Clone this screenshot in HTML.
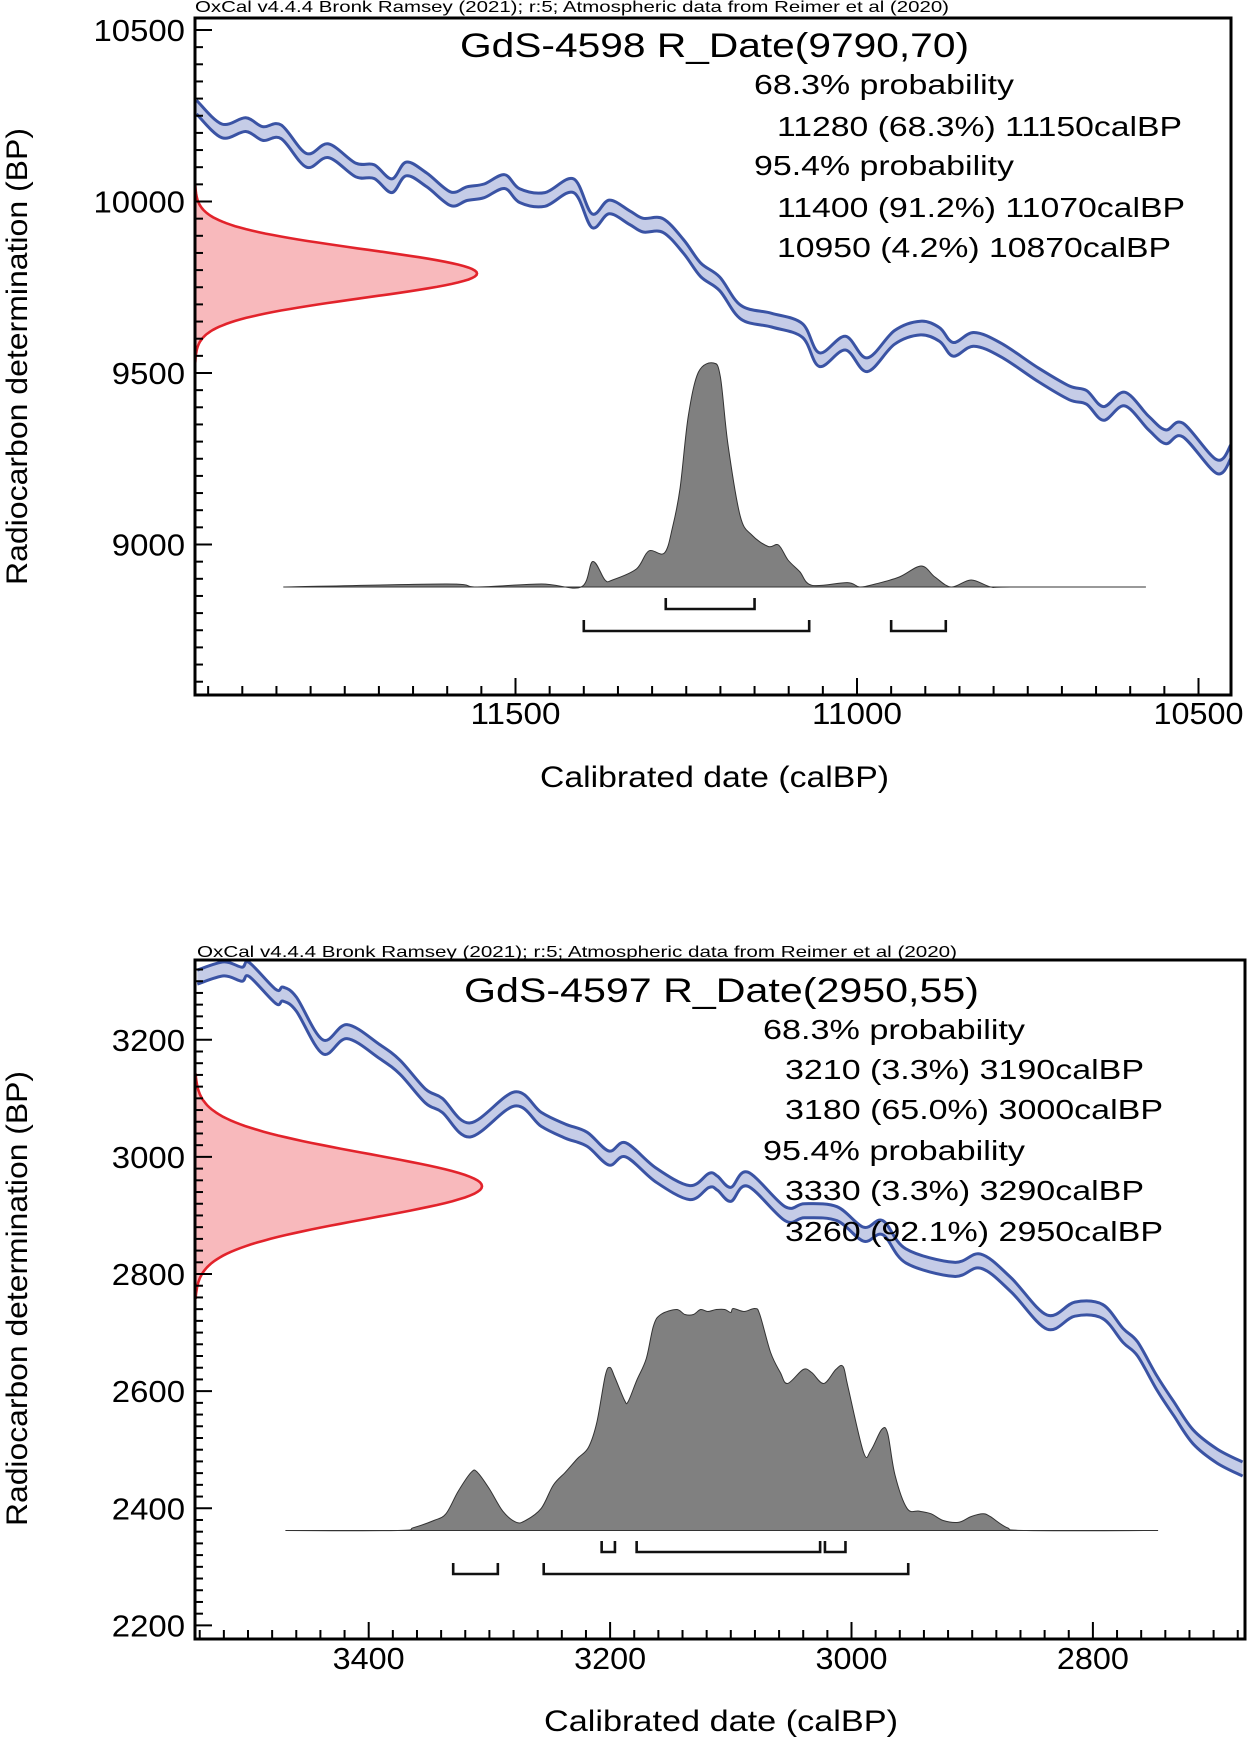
<!DOCTYPE html>
<html><head><meta charset="utf-8"><title>OxCal calibration plots</title>
<style>
html,body{margin:0;padding:0;background:#fff;}
svg{display:block;}
text{font-family:"Liberation Sans",Arial,sans-serif;fill:#000;}
</style></head>
<body>
<svg id="fig" xmlns="http://www.w3.org/2000/svg" width="1247" height="1740" viewBox="0 0 1247 1740">
<rect x="0" y="0" width="1247" height="1740" fill="#fff"/>
<g id="chartA"></g>
<g id="chartB"></g>
</svg>
<script>
// ---- Chart A data (GdS-4598) ----
const calA = [11967,11930,11895,11870,11843,11806,11774,11734,11707,11681,11660,11630,11595,11571,11546,11516,11494,11457,11415,11388,11363,11333,11313,11284,11254,11229,11201,11170,11125,11080,11055,11017,10985,10945,10907,10879,10859,10829,10789,10734,10689,10664,10639,10608,10573,10548,10523,10473,10452];
const bpA = [10275,10206,10224,10198,10203,10120,10148,10092,10087,10046,10095,10063,10008,10023,10031,10058,10017,10006,10046,9944,9984,9953,9931,9930,9869,9801,9760,9677,9654,9624,9539,9587,9524,9604,9631,9612,9569,9598,9567,9494,9442,9429,9382,9424,9354,9314,9334,9227,9273];
const errA = 20;
const postCalA = [11840,11602,11556,11462,11404,11387,11369,11358,11323,11305,11282,11270,11259,11247,11232,11210,11200,11189,11171,11154,11130,11115,11101,11084,11066,11014,10996,10973,10938,10906,10886,10862,10833,10804,10775,10577];
const postProbA = [0,3,0,3,0,25.5,7,7,18,36,34,60,99,171,215,224,210,143,71,52,40.5,42,27,15.5,1.7,4.4,0,3,10,21,10,0,7,0,0,0];
const rangesA1 = [[11280,11150]];
const rangesA2 = [[11400,11070],[10950,10870]];
const xTicksA = [11500,11000,10500];
const yTicksA = [9000,9500,10000,10500];
const dateA = [9790,70];
const textA = ["GdS-4598 R_Date(9790,70)","68.3% probability","11280 (68.3%) 11150calBP","95.4% probability","11400 (91.2%) 11070calBP","10950 (4.2%) 10870calBP"];

// ---- Chart B data (GdS-4597) ----
const calB = [3542,3520,3505,3499,3477,3471,3460,3438,3418,3391,3374,3353,3339,3316,3279,3257,3237,3219,3201,3187,3162,3134,3118,3111,3100,3086,3055,3039,3012,2990,2974,2955,2915,2893,2868,2838,2815,2792,2775,2763,2747,2733,2717,2697,2676];
const bpB = [3307,3321,3312,3320,3274,3278,3261,3188,3214,3180,3153,3104,3088,3046,3099,3064,3044,3030,2998,3012,2969,2939,2960,2955,2936,2962,2903,2908,2903,2868,2879,2831,2808,2822,2782,2718,2740,2736,2695,2672,2614,2570,2522,2489,2467];
const errB = 12;
const postCalB = [3469,3376,3363,3346,3336,3326,3315,3310,3300,3289,3278,3270,3257,3247,3237,3227,3218,3211,3204,3200,3196,3188,3185,3178,3170,3164,3158,3145,3138,3131,3125,3119,3112,3105,3100,3098,3089,3080,3076,3067,3059,3053,3040,3033,3023,3013,3007,3003,2990,2984,2975,2970,2964,2954,2944,2934,2924,2911,2901,2891,2885,2871,2855,2746];
const postProbB = [0,0,2.8,10,16.7,38.9,58.3,58.3,41.6,19.4,8.3,10,22.2,45.5,58.3,72,83,108,155,163,153,130,129,150,172,205,216,221,216,216,221,219,221,221,218,222,219,222,216,178,158,147,161,158,147,161,164,144,78,80,101,97,55.5,22.2,19.4,16.7,10,8.3,13.9,16.7,13.9,2.8,0,0];
const rangesB1 = [[3207,3196],[3178,3026],[3022,3005]];
const rangesB2 = [[3330,3293],[3255,2953]];
const xTicksB = [3400,3200,3000,2800];
const yTicksB = [2200,2400,2600,2800,3000,3200];
const dateB = [2950,55];
const textB = ["GdS-4597 R_Date(2950,55)","68.3% probability","3210 (3.3%) 3190calBP","3180 (65.0%) 3000calBP","95.4% probability","3330 (3.3%) 3290calBP","3260 (92.1%) 2950calBP"];

const NS = "http://www.w3.org/2000/svg";
function mk(parent, tag, attrs, txt){
  const e = document.createElementNS(NS, tag);
  for (const k in attrs) e.setAttribute(k, attrs[k]);
  if (txt !== undefined) e.textContent = txt;
  parent.appendChild(e);
  return e;
}
// Catmull-Rom smoothing of point list [[x,y],...]
function smoothPath(p, move){
  let d = (move ? "M" : "L") + p[0][0].toFixed(1) + "," + p[0][1].toFixed(1);
  for (let i = 0; i < p.length - 1; i++) {
    const p0 = p[Math.max(i - 1, 0)], p1 = p[i], p2 = p[i + 1], p3 = p[Math.min(i + 2, p.length - 1)];
    const c1x = p1[0] + (p2[0] - p0[0]) / 6, c1y = p1[1] + (p2[1] - p0[1]) / 6;
    const c2x = p2[0] - (p3[0] - p1[0]) / 6, c2y = p2[1] - (p3[1] - p1[1]) / 6;
    d += " C" + c1x.toFixed(1) + "," + c1y.toFixed(1) + " " + c2x.toFixed(1) + "," + c2y.toFixed(1) + " " + p2[0].toFixed(1) + "," + p2[1].toFixed(1);
  }
  return d;
}

function drawChart(g, cfg){
  const X = v => cfg.x0 + (cfg.xRef - v) * cfg.xs;
  const Y = v => cfg.y0 - (v - cfg.yRef) * cfg.ys;
  const L = cfg.left, R = cfg.right, T = cfg.top, B = cfg.bottom;

  const clipId = cfg.id + "-clip";
  const defs = mk(g, "defs", {});
  const cp = mk(defs, "clipPath", {id: clipId});
  mk(cp, "rect", {x: L, y: T, width: R - L, height: B - T});
  const plot = mk(g, "g", {"clip-path": "url(#" + clipId + ")"});
  
  

  // red radiocarbon gaussian
  const mu = cfg.date[0], sd = cfg.date[1];
  let pts = [];
  for (let i = 0; i <= 120; i++) {
    const v = mu - cfg.nsig * sd + (2 * cfg.nsig * sd) * i / 120;
    const d = Math.exp(-0.5 * Math.pow((v - mu) / sd, 2));
    pts.push((L + d * cfg.gaussW).toFixed(1) + "," + Y(v).toFixed(1));
  }
  const gp = mk(plot, "polygon", {points: L + "," + Y(mu + cfg.nsig * sd) + " " + pts.join(" ") + " " + L + "," + Y(mu - cfg.nsig * sd), fill: "#f8b9bc", stroke: "none"});
  
  
  const gl = mk(plot, "polyline", {points: pts.join(" "), fill: "none", stroke: "#e2232b", "stroke-width": 2.6});
  
  

  // calibration curve band
  const up = cfg.cal.map((c, i) => [X(c), Y(cfg.bp[i] + cfg.err)]);
  const lo = cfg.cal.map((c, i) => [X(c), Y(cfg.bp[i] - cfg.err)]);
  const band = mk(plot, "path", {d: smoothPath(up, true) + " " + smoothPath(lo.slice().reverse(), false) + " Z", fill: "#c5cce7", stroke: "none"});
  
  
  const lu = mk(plot, "path", {d: smoothPath(up, true), fill: "none", stroke: "#3a53a4", "stroke-width": 3, "stroke-linejoin": "round"});
  
  
  const ll = mk(plot, "path", {d: smoothPath(lo, true), fill: "none", stroke: "#3a53a4", "stroke-width": 3, "stroke-linejoin": "round"});
  
  

  // posterior (calibrated) distribution
  const pmax = Math.max(...cfg.prob);
  const pp = cfg.pcal.map((c, i) => [X(c), cfg.base - cfg.prob[i] / pmax * cfg.pH]);
  const post = mk(plot, "path", {d: "M" + X(cfg.pcal[0]) + "," + cfg.base + " " + smoothPath(pp, false) + " L" + X(cfg.pcal[cfg.pcal.length - 1]) + "," + cfg.base + " Z", fill: "#808080", stroke: "#333", "stroke-width": 1});
  
  

  // range brackets
  function brackets(list, y, name){
    list.forEach(r => {
      const b = mk(plot, "polyline", {points: X(r[0]) + "," + (y - 11) + " " + X(r[0]) + "," + y + " " + X(r[1]) + "," + y + " " + X(r[1]) + "," + (y - 11), fill: "none", stroke: "#111", "stroke-width": 2.6});
      
      
    });
  }
  brackets(cfg.r1, cfg.r1y, "range-68-bracket");
  brackets(cfg.r2, cfg.r2y, "range-95-bracket");

  // ticks
  const tk = mk(g, "g", {stroke: "#000", "stroke-width": 2});
  
  
  for (let v = cfg.xMinorStart; v >= cfg.xMinorEnd; v -= cfg.xMinor) {
    const x = X(v);
    if (x < L + 2 || x > R - 2) continue;
    const major = cfg.xMajor.includes(v);
    mk(tk, "line", {x1: x, x2: x, y1: B, y2: B - (major ? 17 : 9)});
  }
  for (let v = cfg.yMinorStart; v <= cfg.yMinorEnd; v += cfg.yMinor) {
    const y = Y(v);
    if (y < T + 2 || y > B - 2) continue;
    const major = cfg.yMajor.includes(v);
    mk(tk, "line", {x1: L, x2: L + (major ? 17 : 8), y1: y, y2: y});
  }

  // frame
  const fr = mk(g, "rect", {x: L, y: T, width: R - L, height: B - T, fill: "none", stroke: "#000", "stroke-width": 3});
  
  

  // tick labels
  cfg.xMajor.forEach(v => {
    const t = mk(g, "text", {x: X(v), y: cfg.xLabY, "font-size": 31, "text-anchor": "middle", textLength: String(v).length * 18, lengthAdjust: "spacingAndGlyphs"}, String(v));
    
    
  });
  cfg.yMajor.forEach(v => {
    const t = mk(g, "text", {x: 185, y: Y(v) + 11, "font-size": 31, "text-anchor": "end", textLength: String(v).length * 18.3, lengthAdjust: "spacingAndGlyphs"}, String(v));
    
    
  });
}

drawChart(document.getElementById("chartA"), {
  id: "A", left: 195, right: 1231, top: 18, bottom: 695,
  x0: 857, xRef: 11000, xs: 0.683, y0: 201.5, yRef: 10000, ys: 0.343,
  date: dateA, nsig: 3.7, gaussW: 282,
  cal: calA, bp: bpA, err: errA,
  pcal: postCalA, prob: postProbA, base: 587, pH: 224,
  r1: rangesA1, r1y: 609, r2: rangesA2, r2y: 631,
  xMinorStart: 12000, xMinorEnd: 10400, xMinor: 50, xMajor: xTicksA,
  yMinorStart: 8550, yMinorEnd: 10550, yMinor: 50, yMajor: yTicksA,
  xLabY: 724
});
drawChart(document.getElementById("chartB"), {
  id: "B", left: 195, right: 1245, top: 960, bottom: 1639,
  x0: 851.5, xRef: 3000, xs: 1.207, y0: 1156.9, yRef: 3000, ys: 0.5856,
  date: dateB, nsig: 3.5, gaussW: 287,
  cal: calB, bp: bpB, err: errB,
  pcal: postCalB, prob: postProbB, base: 1530.5, pH: 222,
  r1: rangesB1, r1y: 1552, r2: rangesB2, r2y: 1574,
  xMinorStart: 3560, xMinorEnd: 2660, xMinor: 20, xMajor: xTicksB,
  yMinorStart: 2160, yMinorEnd: 3340, yMinor: 20, yMajor: yTicksB,
  xLabY: 1669
});

// ---- text annotations ----
function addText(parentId, name, x, y, size, len, str, anchor, rot){
  const p = document.getElementById(parentId);
  const attrs = {x: x, y: y, "font-size": size, textLength: len, lengthAdjust: "spacingAndGlyphs"};
  if (anchor) attrs["text-anchor"] = anchor;
  if (rot) attrs.transform = "rotate(-90 " + x + " " + y + ")";
  const t = mk(p, "text", attrs, str);
  
  
}
addText("chartA", "software-credit", 195, 12, 16, 754, "OxCal v4.4.4 Bronk Ramsey (2021); r:5; Atmospheric data from Reimer et al (2020)");
addText("chartA", "chart-title", 460, 57, 34, 509, textA[0]);
addText("chartA", "prob-68-heading", 754, 94, 28, 260, textA[1]);
addText("chartA", "prob-68-range-1", 777, 136, 28, 405, textA[2]);
addText("chartA", "prob-95-heading", 754, 175, 28, 260, textA[3]);
addText("chartA", "prob-95-range-1", 777, 217, 28, 408, textA[4]);
addText("chartA", "prob-95-range-2", 777, 257, 28, 394, textA[5]);
addText("chartA", "x-axis-title", 540, 787, 30, 349, "Calibrated date (calBP)");
addText("chartA", "y-axis-title", 27, 585, 30, 457, "Radiocarbon determination (BP)", null, true);

addText("chartB", "software-credit", 197, 957, 16, 760, "OxCal v4.4.4 Bronk Ramsey (2021); r:5; Atmospheric data from Reimer et al (2020)");
addText("chartB", "chart-title", 464, 1002, 34, 515, textB[0]);
addText("chartB", "prob-68-heading", 763, 1039, 28, 262, textB[1]);
addText("chartB", "prob-68-range-1", 785, 1079, 28, 359, textB[2]);
addText("chartB", "prob-68-range-2", 785, 1119, 28, 378, textB[3]);
addText("chartB", "prob-95-heading", 763, 1160, 28, 262, textB[4]);
addText("chartB", "prob-95-range-1", 785, 1200, 28, 359, textB[5]);
addText("chartB", "prob-95-range-2", 785, 1241, 28, 378, textB[6]);
addText("chartB", "x-axis-title", 544, 1731, 30, 354, "Calibrated date (calBP)");
addText("chartB", "y-axis-title", 27, 1526, 30, 455, "Radiocarbon determination (BP)", null, true);
</script>
</body></html>
